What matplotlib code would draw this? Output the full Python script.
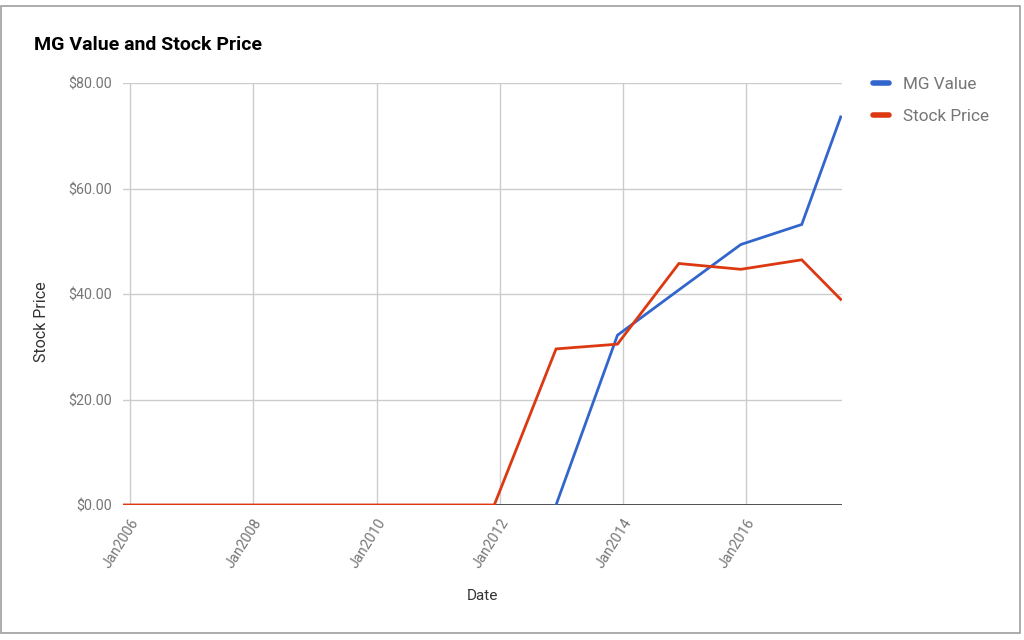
import matplotlib
matplotlib.use("Agg")
import matplotlib.pyplot as plt
from matplotlib.lines import Line2D
from matplotlib.patches import Rectangle
import datetime as dt

plt.rcParams['font.family'] = ['Roboto', 'DejaVu Sans']

# Data
price_dates = ["2005-11-20", "2006-11-20", "2007-11-20", "2008-11-20", "2009-11-20",
               "2010-11-20", "2011-11-30", "2012-11-30", "2013-11-29", "2014-11-28",
               "2015-11-30", "2016-11-25", "2017-07-14"]
stock_price = [0, 0, 0, 0, 0, 0, 0, 29.6, 30.5, 45.8, 44.7, 46.5, 39.0]

mg_dates = ["2012-11-30", "2013-11-29", "2014-11-28", "2015-11-30", "2016-11-25", "2017-07-14"]
mg_value = [0, 32.2, 40.8, 49.4, 53.2, 73.6]

tick_years = [2006, 2008, 2010, 2012, 2014, 2016]
y_ticks = [0, 20, 40, 60, 80]

to_d = lambda s: dt.datetime.strptime(s, "%Y-%m-%d")
pd_ = [to_d(s) for s in price_dates]
md_ = [to_d(s) for s in mg_dates]

fig = plt.figure(figsize=(10.24, 6.4), dpi=100)
ax = fig.add_axes([0.120, 0.211, 0.702, 0.659])

blue = "#3366CC"
red = "#DC3912"

ax.plot(md_, mg_value, color=blue, lw=2.0, zorder=3, solid_joinstyle='miter')
ax.plot(pd_, stock_price, color=red, lw=2.0, zorder=4, solid_joinstyle='miter')

ax.set_xlim(to_d("2005-11-20"), to_d("2017-07-20"))
ax.set_ylim(0, 80)
ax.set_yticks(y_ticks)
ax.set_yticklabels([f"${v:.2f}" for v in y_ticks])
ax.set_xticks([dt.datetime(y, 1, 1) for y in tick_years])
ax.set_xticklabels([f"Jan{y}" for y in tick_years], rotation=58, ha='right',
                   va='top', rotation_mode='anchor')

ax.grid(True, color="#cccccc", lw=1)
ax.set_axisbelow(True)
for s in ax.spines.values():
    s.set_visible(False)
ax.axhline(0, color="#333333", lw=1.2, zorder=2)
ax.tick_params(length=0, labelsize=10.3, colors="#757575", pad=8)
ax.tick_params(axis='x', pad=8)

fig.text(0.033, 0.929, "MG Value and Stock Price", fontsize=14, fontweight='bold',
         color="#000000", va='center', ha='left')
fig.text(0.041, 0.498, "Stock Price", rotation=90, fontsize=11.5, color="#333333",
         va='center', ha='center')
fig.text(0.471, 0.069, "Date", fontsize=11, color="#333333", va='center', ha='center')

handles = [Line2D([], [], color=blue, lw=4, solid_capstyle='round'),
           Line2D([], [], color=red, lw=4, solid_capstyle='round')]
fig.legend(handles, ["MG Value", "Stock Price"], loc='upper left',
           bbox_to_anchor=(0.853, 0.879), frameon=False, fontsize=12.3,
           labelcolor="#757575", handlelength=0.9, handletextpad=0.8,
           labelspacing=0.95, borderpad=0, borderaxespad=0)

fig.patches.append(Rectangle((0.001, 0.011), 0.995, 0.98, transform=fig.transFigure,
                             fill=False, edgecolor="#9e9e9e", lw=1.2))

fig.savefig("out.png", dpi=100, facecolor="white")
